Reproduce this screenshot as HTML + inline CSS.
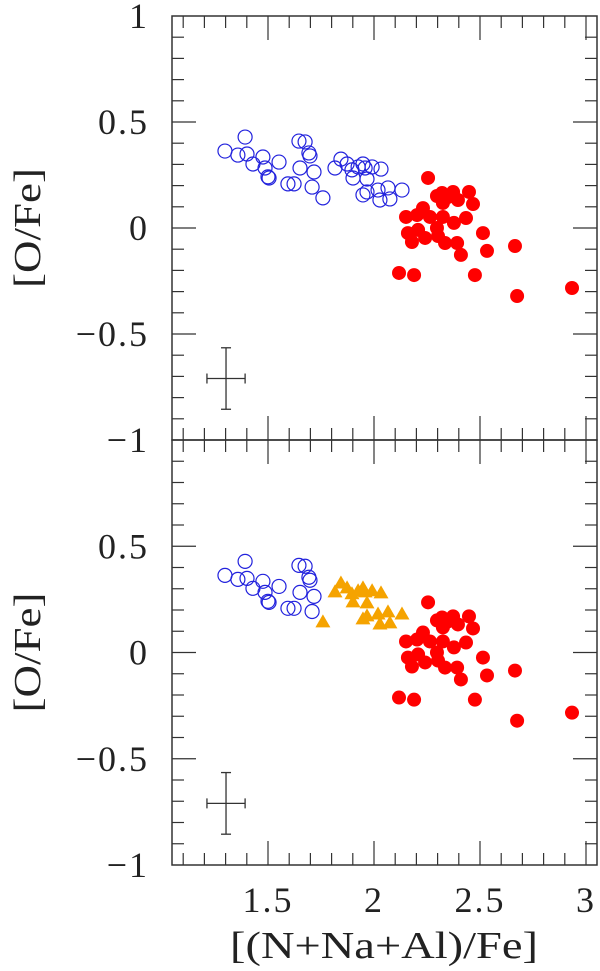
<!DOCTYPE html>
<html><head><meta charset="utf-8"><style>
html,body{margin:0;padding:0;background:#fff;}
svg{display:block;}
text{font-family:"Liberation Serif",serif;fill:#222;}
</style></head><body>
<svg id="chart" width="600" height="971" viewBox="0 0 600 971" xmlns="http://www.w3.org/2000/svg"></svg>
<script>
// data
const circleX = [1.297,1.392,1.358,1.401,1.476,1.429,1.486,1.552,1.500,1.505,1.594,1.623,1.646,1.675,1.693,1.698,1.651,1.717,1.708];
const circleY = [0.363,0.429,0.344,0.349,0.335,0.302,0.283,0.311,0.241,0.236,0.208,0.208,0.410,0.406,0.354,0.340,0.283,0.264,0.193];
const midX = [1.759,1.816,1.844,1.873,1.896,1.901,1.948,1.958,1.991,2.033,1.967,1.948,1.967,2.019,2.028,2.066,2.075,2.132,1.925];
const midY = [0.142,0.283,0.325,0.302,0.274,0.236,0.302,0.283,0.288,0.278,0.231,0.156,0.170,0.179,0.132,0.189,0.137,0.179,0.288];
const redX = [2.255,2.321,2.297,2.373,2.349,2.396,2.448,2.467,2.325,2.231,2.151,2.203,2.264,2.325,2.377,2.434,2.160,2.208,2.179,2.241,2.297,2.302,2.335,2.392,2.410,2.514,2.533,2.665,2.118,2.189,2.476,2.675,2.934];
const redY = [0.236,0.165,0.151,0.170,0.146,0.132,0.170,0.113,0.118,0.094,0.052,0.061,0.052,0.052,0.024,0.047,-0.024,-0.009,-0.066,-0.047,0,-0.038,-0.071,-0.071,-0.127,-0.024,-0.108,-0.085,-0.212,-0.222,-0.222,-0.321,-0.283];
const xTickLabels = ["1.5","2","2.5","3"];
const xTickValues = [1.5,2,2.5,3];
const yTickValuesTop = [1,0.5,0,-0.5,-1];
const yTickLabelsTop = ["1","0.5","0","\u22120.5","\u22121"];
const yTickValuesBot = [0.5,0,-0.5,-1];
const yTickLabelsBot = ["0.5","0","\u22120.5","\u22121"];
const errX = [1.302, 0.09];
const errY = [-0.71, 0.145];

const NS="http://www.w3.org/2000/svg";
const svg=document.getElementById('chart');
const L=172,R=597,X0=1.0,XS=212;
function sx(v){return 162+(v-X0)*XS;}
function mk(tag,attrs,parent){const e=document.createElementNS(NS,tag);for(const k in attrs)e.setAttribute(k,attrs[k]);(parent||svg).appendChild(e);return e;}

function panel(name,top,bottom,ytv,ytl,showX,circles,tris){
  const g=mk('g',{});
  
  
  const sy=v=>(top+bottom)/2 - v*(bottom-top)/2;
  const fr=mk('rect',{x:L,y:top,width:R-L,height:bottom-top,fill:'none',stroke:'#333','stroke-width':1.5},g);
  
  
  for(let i=11;i<=30;i++){const v=i/10;const x=sx(v);if(x<=L||x>=R)continue;const len=(i%5===0)?24:12;
    mk('line',{x1:x,y1:bottom,x2:x,y2:bottom-len,stroke:'#333','stroke-width':1.2},g);
    mk('line',{x1:x,y1:top,x2:x,y2:top+len,stroke:'#333','stroke-width':1.2},g);}
  for(let i=-9;i<=9;i++){const v=i/10;const y=sy(v);const len=(i%5===0)?24:12;
    mk('line',{x1:L,y1:y,x2:L+len,y2:y,stroke:'#333','stroke-width':1.2},g);
    mk('line',{x1:R,y1:y,x2:R-len,y2:y,stroke:'#333','stroke-width':1.2},g);}
  ytv.forEach((v,i)=>{const t=mk('text',{x:149,y:sy(v)+12,'text-anchor':'end','font-size':36,'letter-spacing':2},g);t.textContent=ytl[i];
    
    });
  const yl=mk('text',{x:0,y:0,'text-anchor':'middle','font-size':38,textLength:120,lengthAdjust:'spacingAndGlyphs',transform:`translate(40,${sy(0)}) rotate(-90)`},g);
  yl.textContent='[O/Fe]';
  
  
  if(showX){
    xTickValues.forEach((v,i)=>{const t=mk('text',{x:sx(v),y:912,'text-anchor':'middle','font-size':36,'letter-spacing':2},g);t.textContent=xTickLabels[i];
      
      });
    const xl=mk('text',{x:384,y:958,'text-anchor':'middle','font-size':38,textLength:308,lengthAdjust:'spacingAndGlyphs'},g);
    xl.textContent='[(N+Na+Al)/Fe]';
    
    
  }
  const ex=sx(errX[0]),ey=sy(errY[0]),hw=errX[1]*XS,hh=errY[1]*(bottom-top)/2;
  const eg=mk('g',{stroke:'#333','stroke-width':1.3},g);
  
  
  mk('line',{x1:ex-hw,y1:ey,x2:ex+hw,y2:ey},eg);
  mk('line',{x1:ex,y1:ey-hh,x2:ex,y2:ey+hh},eg);
  mk('line',{x1:ex-hw,y1:ey-5,x2:ex-hw,y2:ey+5},eg);
  mk('line',{x1:ex+hw,y1:ey-5,x2:ex+hw,y2:ey+5},eg);
  mk('line',{x1:ex-5,y1:ey-hh,x2:ex+5,y2:ey-hh},eg);
  mk('line',{x1:ex-5,y1:ey+hh,x2:ex+5,y2:ey+hh},eg);
  circles.forEach(([xs,ys])=>xs.forEach((v,i)=>{const c=mk('circle',{cx:sx(v),cy:sy(ys[i]),r:7,fill:'none',stroke:'#2222dd','stroke-width':1.2},g);
    
    }));
  tris.forEach(([xs,ys])=>xs.forEach((v,i)=>{const x=sx(v),y=sy(ys[i]);const p=mk('polygon',{points:`${x},${y-8} ${x-7.5},${y+5} ${x+7.5},${y+5}`,fill:'#f5a300'},g);
    
    }));
  redX.forEach((v,i)=>{const c=mk('circle',{cx:sx(v),cy:sy(redY[i]),r:7,fill:'#ff0000'},g);
    
    });
}
panel('top-panel',16,440,yTickValuesTop,yTickLabelsTop,false,[[circleX,circleY],[midX,midY]],[]);
panel('bottom-panel',440,865,yTickValuesBot,yTickLabelsBot,true,[[circleX,circleY]],[[midX,midY]]);
</script>
</body></html>
